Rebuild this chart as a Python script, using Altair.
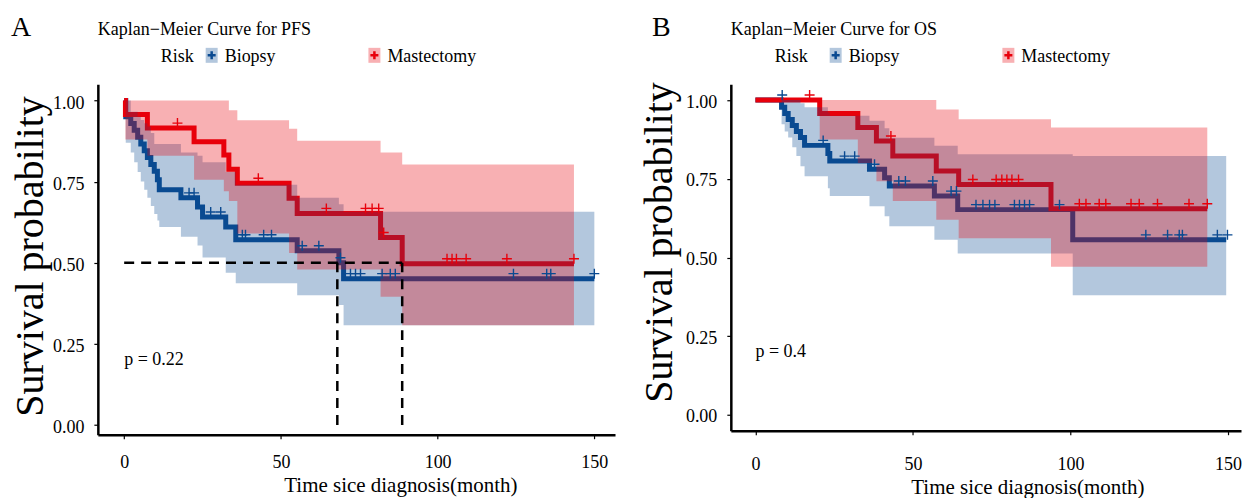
import altair as alt
import pandas as pd

FONT = "Liberation Serif"
GROUPS = ["Biopsy", "Mastectomy"]
LINE_COLORS = {"Biopsy": "#0A4A91", "Mastectomy": "#E8000B"}
LIGHT = {"Biopsy": "#B3C7DD", "Mastectomy": "#F8B0B3"}

# ---------------- PFS (panel A) ----------------
pfs_bio_t = [0, 0.5, 2.1, 3.2, 4.3, 5.3, 6.4, 7.4, 8.5, 9.6, 10.6, 11.2, 18.1, 23.4, 25.0, 32.4, 35.6, 55.2, 68.5, 70.0, 150.0]
pfs_bio_s = [1.0, 0.950, 0.929, 0.908, 0.887, 0.866, 0.845, 0.824, 0.803, 0.782, 0.756, 0.725, 0.700, 0.672, 0.641, 0.610, 0.571, 0.537, 0.500, 0.451, 0.451]
pfs_bio_hi = [1.0, 1.0, 0.965, 0.965, 0.95, 0.94, 0.93, 0.92, 0.90, 0.866, 0.866, 0.866, 0.84, 0.83, 0.81, 0.78, 0.74, 0.70, 0.68, 0.657, 0.657]
pfs_bio_lo = [1.0, 0.87, 0.84, 0.81, 0.78, 0.75, 0.725, 0.70, 0.675, 0.65, 0.63, 0.61, 0.58, 0.553, 0.516, 0.469, 0.437, 0.40, 0.37, 0.307, 0.307]
pfs_bio_cens_t = [20.7, 22.3, 27.6, 30.8, 37.7, 38.7, 44.5, 47.0, 56.8, 62.1, 69.0, 72.2, 73.8, 75.4, 82.3, 84.9, 86.5, 124.2, 134.8, 136.1, 150.0]
pfs_bio_cens_s = [0.70, 0.70, 0.641, 0.641, 0.571, 0.571, 0.571, 0.571, 0.537, 0.537, 0.50, 0.451, 0.451, 0.451, 0.451, 0.451, 0.451, 0.451, 0.451, 0.451, 0.451]

pfs_mas_t = [0, 0.4, 7.4, 22.3, 31.8, 33.4, 36.1, 52.6, 55.2, 81.8, 88.7, 143.5]
pfs_mas_s = [1.0, 0.957, 0.915, 0.873, 0.832, 0.788, 0.745, 0.699, 0.652, 0.578, 0.497, 0.497]
pfs_mas_hi = [1.0, 1.0, 1.0, 1.0, 1.0, 0.97, 0.939, 0.913, 0.876, 0.84, 0.803, 0.803]
pfs_mas_lo = [1.0, 0.88, 0.83, 0.756, 0.72, 0.69, 0.59, 0.53, 0.479, 0.395, 0.307, 0.307]
pfs_mas_cens_t = [17.0, 42.8, 64.5, 77.0, 79.1, 81.2, 82.8, 103.0, 104.6, 106.0, 109.1, 122.1, 143.5]
pfs_mas_cens_s = [0.915, 0.745, 0.652, 0.652, 0.652, 0.652, 0.578, 0.497, 0.497, 0.497, 0.497, 0.497, 0.497]

pfs_medians = [68.0, 88.7]
pfs_pvalue = "p = 0.22"

# ---------------- OS (panel B) ----------------
os_bio_t = [0, 8.3, 9.3, 10.4, 11.7, 13.0, 14.3, 15.6, 23.0, 23.6, 36.2, 41.0, 42.5, 56.8, 64.2, 100.7, 149.4]
os_bio_s = [1.0, 0.977, 0.957, 0.938, 0.919, 0.900, 0.881, 0.856, 0.830, 0.806, 0.780, 0.753, 0.727, 0.695, 0.652, 0.556, 0.556]
os_bio_hi = [1.0, 1.0, 1.0, 1.0, 1.0, 1.0, 0.99, 0.977, 0.96, 0.95, 0.934, 0.91, 0.88, 0.855, 0.828, 0.822, 0.822]
os_bio_lo = [1.0, 0.923, 0.90, 0.881, 0.85, 0.822, 0.79, 0.758, 0.72, 0.695, 0.663, 0.631, 0.599, 0.556, 0.513, 0.38, 0.38]
os_bio_cens_t = [8.5, 21.5, 28.3, 31.5, 37.8, 45.5, 47.6, 56.3, 62.1, 63.8, 70.0, 72.2, 74.3, 76.0, 82.2, 83.8, 85.4, 87.0, 96.5, 123.9, 130.8, 134.5, 135.5, 146.6, 149.8]
os_bio_cens_s = [1.0, 0.856, 0.806, 0.806, 0.78, 0.727, 0.727, 0.727, 0.695, 0.695, 0.652, 0.652, 0.652, 0.652, 0.652, 0.652, 0.652, 0.652, 0.652, 0.556, 0.556, 0.556, 0.556, 0.556, 0.556]

os_mas_t = [0, 20.4, 32.5, 38.4, 43.6, 57.4, 64.5, 93.8, 143.4]
os_mas_s = [1.0, 0.957, 0.913, 0.870, 0.822, 0.775, 0.732, 0.655, 0.655]
os_mas_hi = [1.0, 1.0, 1.0, 1.0, 1.0, 0.97, 0.939, 0.913, 0.913]
os_mas_lo = [1.0, 0.875, 0.80, 0.742, 0.679, 0.62, 0.561, 0.471, 0.471]
os_mas_cens_t = [17.2, 43.0, 69.0, 76.4, 78.2, 79.8, 81.4, 83.5, 102.8, 104.9, 109.1, 111.2, 119.2, 121.8, 127.6, 137.6, 143.4]
os_mas_cens_s = [1.0, 0.870, 0.732, 0.732, 0.732, 0.732, 0.732, 0.732, 0.655, 0.655, 0.655, 0.655, 0.655, 0.655, 0.655, 0.655, 0.655]

os_medians = []
os_pvalue = "p = 0.4"

TICKS_X = [0, 50, 100, 150]
TICKS_Y = [0, 0.25, 0.5, 0.75, 1.0]

RECT_PATH = "M-0.8,-1H0.8V1H-0.8Z"
PLUS_PATH = "M-1,0H1M0,-1V1"
one = pd.DataFrame({"k": [0]})


def text_layer(txt, rx, ry, size):
    return alt.Chart(one).mark_text(
        text=txt, align="left", baseline="alphabetic", font=FONT, fontSize=size, color="black"
    ).encode(x=alt.value(rx), y=alt.value(ry))


def panel(curves, medians, pval, letter, title, xdom, ydom, width, height, lay):
    xscale = alt.Scale(domain=xdom, nice=False, zero=False)
    xaxis = alt.Axis(values=TICKS_X, title="Time sice diagnosis(month)", titleFontSize=21,
                     titleFontWeight="normal", titleX=lay["xtitle_x"], titleY=lay["xtitle_y"],
                     titleBaseline="alphabetic", titleAlign="center", labelPadding=lay["xlabel_pad"],
                     labelFontSize=18)
    yscale = alt.Scale(domain=ydom, nice=False, zero=False)
    yaxis = alt.Axis(values=TICKS_Y, format=".2f", title="Survival probability",
                     titleFontSize=40, titleFontWeight="normal", titleX=lay["ytitle_x"], titleY=lay["ytitle_y"],
                     titleAngle=270, titleBaseline="middle", titleAlign="center", labelPadding=10,
                     labelOffset=lay["ylabel_off"], labelFontSize=18)
    X = alt.X("t:Q", scale=xscale, axis=xaxis)
    Y = alt.Y("s:Q", scale=yscale, axis=yaxis)
    lines, bands, cens = [], [], []
    for g in GROUPS:
        t, s, lo, hi, ct, cs = curves[g]
        df = pd.DataFrame({"t": t, "s": s, "lo": lo, "hi": hi})
        lines.append(alt.Chart(df).mark_line(interpolate="step-after", strokeWidth=5,
                                             strokeCap="butt", color=LINE_COLORS[g]).encode(x=X, y=Y))
        bands.append(alt.Chart(df).mark_area(interpolate="step-after", color=LINE_COLORS[g],
                                             opacity=0.31).encode(
            x=X, y=alt.Y("lo:Q", scale=yscale, axis=yaxis), y2="hi:Q"))
        cdf = pd.DataFrame({"t": ct, "s": cs})
        cens.append(alt.Chart(cdf).mark_point(shape=PLUS_PATH, filled=False, size=100, strokeWidth=1.4,
                                              color=LINE_COLORS[g], opacity=1, yOffset=-5).encode(x=X, y=Y))
    layers = lines + bands + cens
    if medians:
        hdf = pd.DataFrame({"t": [0.0], "t2": [max(medians)], "s": [0.5]})
        vdf = pd.DataFrame({"t": medians, "s": [0.0] * len(medians), "s2": [0.5] * len(medians)})
        layers.append(alt.Chart(hdf).mark_rule(color="black", strokeWidth=2.5, strokeDash=[10, 7]).encode(x=X, x2="t2:Q", y=Y))
        layers.append(alt.Chart(vdf).mark_rule(color="black", strokeWidth=2.5, strokeDash=[10, 7]).encode(x=X, y=Y, y2="s2:Q"))
    pdf = pd.DataFrame({"t": [0.0], "s": [0.2], "label": [pval]})
    layers.append(alt.Chart(pdf).mark_text(align="left", baseline="middle", font=FONT, fontSize=18,
                                           color="black").encode(x=X, y=Y, text="label:N"))
    # header: panel letter, title, legend
    layers.append(text_layer(letter, lay["letter_x"], -48, 28))
    layers.append(text_layer(title, 0, -49, 18))
    layers.append(text_layer("Risk", lay["risk_x"], -22, 18))
    for g, sx in zip(GROUPS, lay["sym_x"]):
        layers.append(alt.Chart(one).mark_point(shape=RECT_PATH, filled=True, size=225, color=LIGHT[g],
                                                opacity=1).encode(x=alt.value(sx), y=alt.value(-29)))
        layers.append(alt.Chart(one).mark_point(shape=PLUS_PATH, filled=False, size=64, strokeWidth=2.5,
                                                color=LINE_COLORS[g], opacity=1).encode(x=alt.value(sx), y=alt.value(-29)))
        layers.append(text_layer(g, sx + 13, -22, 18))
    return alt.layer(*layers).properties(width=width, height=height)


pfs_curves = {
    "Biopsy": (pfs_bio_t, pfs_bio_s, pfs_bio_lo, pfs_bio_hi, pfs_bio_cens_t, pfs_bio_cens_s),
    "Mastectomy": (pfs_mas_t, pfs_mas_s, pfs_mas_lo, pfs_mas_hi, pfs_mas_cens_t, pfs_mas_cens_s),
}
os_curves = {
    "Biopsy": (os_bio_t, os_bio_s, os_bio_lo, os_bio_hi, os_bio_cens_t, os_bio_cens_s),
    "Mastectomy": (os_mas_t, os_mas_s, os_mas_lo, os_mas_hi, os_mas_cens_t, os_mas_cens_s),
}

A = panel(pfs_curves, pfs_medians, pfs_pvalue, "A", "Kaplan\u2212Meier Curve for PFS",
          [-8.4, 156.6], [-0.03, 1.05], 518, 351,
          {"letter_x": -87, "risk_x": 63, "sym_x": [114, 277], "ytitle_x": -67, "ytitle_y": 172,
           "xtitle_x": 303, "xtitle_y": 57, "xlabel_pad": 15, "ylabel_off": 3})
B = panel(os_curves, os_medians, os_pvalue, "B", "Kaplan\u2212Meier Curve for OS",
          [-7.8, 154.1], [-0.05, 1.05], 511, 347,
          {"letter_x": -79, "risk_x": 44, "sym_x": [105, 278], "ytitle_x": -71, "ytitle_y": 158,
           "xtitle_x": 297, "xtitle_y": 63, "xlabel_pad": 21, "ylabel_off": 2})

chart = alt.hconcat(A, B, spacing=116, bounds="flush").configure_view(stroke=None).configure_axis(
    domainColor="black", domainWidth=2.5, tickColor="black", tickWidth=1.2, tickSize=4,
    labelFont=FONT, labelFontSize=17, labelColor="black", titleFont=FONT, titleColor="black", grid=False
).properties(padding={"left": 2, "top": 6, "right": 0, "bottom": 0}, background="white")

chart.save("out.html", embed_options={"renderer": "svg", "actions": False})
